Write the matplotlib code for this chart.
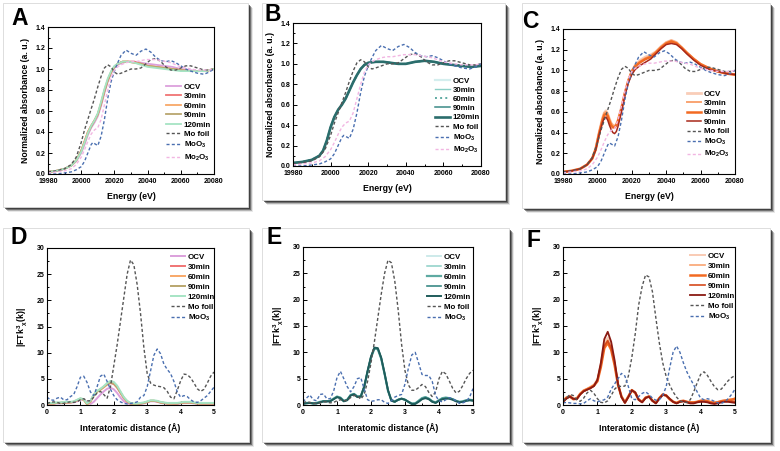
import matplotlib
matplotlib.use("Agg")
import matplotlib.pyplot as plt
from matplotlib.patches import Rectangle
from matplotlib.ticker import MultipleLocator

plt.rcParams['font.family'] = ['Liberation Sans', 'DejaVu Sans']
plt.rcParams['font.weight'] = 'bold'
plt.rcParams['mathtext.fontset'] = 'custom'
plt.rcParams['mathtext.rm'] = 'Liberation Sans:bold'
plt.rcParams['mathtext.it'] = 'Liberation Sans:bold'
plt.rcParams['mathtext.bf'] = 'Liberation Sans:bold'

# ---------------- XANES data ----------------
E_REF = [19980, 19985, 19990, 19994, 19997, 20000, 20002, 20004, 20006, 20007,
         20008, 20010, 20012, 20014, 20016, 20018, 20020, 20022, 20024, 20027,
         20030, 20033, 20036, 20039, 20042, 20045, 20048, 20051, 20054, 20057,
         20060, 20063, 20066, 20070, 20074, 20077, 20080]
mo_foil = [0.02, 0.03, 0.05, 0.09, 0.16, 0.30, 0.42, 0.52, 0.62, 0.67,
           0.72, 0.83, 0.93, 1.01, 1.04, 1.02, 0.97, 0.95, 0.96, 0.98,
           1.00, 1.00, 1.01, 1.05, 1.09, 1.10, 1.07, 1.02, 0.99, 0.99,
           1.01, 1.03, 1.03, 1.01, 0.99, 0.99, 1.00]
moo3 = [0.00, 0.00, 0.01, 0.02, 0.04, 0.07, 0.12, 0.20, 0.28, 0.30,
        0.29, 0.27, 0.36, 0.52, 0.72, 0.88, 0.98, 1.06, 1.13, 1.18,
        1.15, 1.13, 1.17, 1.19, 1.16, 1.11, 1.08, 1.07, 1.08, 1.06,
        1.03, 1.00, 0.98, 0.96, 0.95, 0.97, 1.00]
mo2o3 = [0.01, 0.02, 0.03, 0.05, 0.09, 0.16, 0.23, 0.31, 0.38, 0.40,
         0.42, 0.44, 0.52, 0.66, 0.80, 0.92, 0.99, 1.02, 1.04, 1.06,
         1.07, 1.07, 1.08, 1.09, 1.09, 1.09, 1.08, 1.07, 1.06, 1.04,
         1.02, 1.01, 1.00, 0.99, 0.99, 0.99, 1.00]

E_A = [19980, 19985, 19990, 19994, 19997, 20000, 20002, 20004, 20006, 20008,
       20010, 20012, 20014, 20016, 20018, 20020, 20022, 20025, 20028, 20032,
       20036, 20040, 20045, 20050, 20055, 20060, 20065, 20070, 20075, 20080]
a_ocv = [0.02, 0.03, 0.05, 0.08, 0.12, 0.20, 0.28, 0.37, 0.44, 0.49,
         0.55, 0.65, 0.77, 0.88, 0.96, 1.01, 1.04, 1.06, 1.07, 1.07,
         1.06, 1.05, 1.04, 1.03, 1.02, 1.00, 0.99, 0.98, 0.98, 1.00]
a_30 = [0.02, 0.03, 0.05, 0.08, 0.13, 0.22, 0.31, 0.40, 0.46, 0.51,
        0.57, 0.67, 0.79, 0.89, 0.97, 1.02, 1.05, 1.07, 1.07, 1.07,
        1.05, 1.03, 1.02, 1.01, 1.00, 0.99, 0.98, 0.98, 0.98, 1.00]
a_60 = [0.02, 0.03, 0.05, 0.08, 0.13, 0.22, 0.31, 0.40, 0.46, 0.51,
        0.57, 0.68, 0.80, 0.90, 0.97, 1.02, 1.05, 1.07, 1.07, 1.06,
        1.05, 1.03, 1.02, 1.01, 1.00, 0.99, 0.98, 0.98, 0.98, 1.00]
a_90 = [0.02, 0.03, 0.05, 0.08, 0.13, 0.22, 0.30, 0.39, 0.45, 0.51,
        0.57, 0.67, 0.79, 0.89, 0.97, 1.02, 1.05, 1.07, 1.07, 1.06,
        1.05, 1.03, 1.02, 1.01, 1.00, 0.99, 0.98, 0.98, 0.98, 1.00]
a_120 = [0.02, 0.03, 0.05, 0.08, 0.13, 0.21, 0.30, 0.39, 0.46, 0.51,
         0.58, 0.69, 0.81, 0.91, 0.98, 1.03, 1.05, 1.07, 1.07, 1.06,
         1.04, 1.02, 1.01, 1.00, 0.99, 0.98, 0.98, 0.98, 0.98, 1.00]

E_B = [19980, 19985, 19990, 19994, 19996, 19998, 20000, 20002, 20004, 20006,
       20008, 20010, 20012, 20014, 20016, 20018, 20020, 20024, 20028, 20032,
       20036, 20040, 20045, 20050, 20055, 20060, 20065, 20070, 20075, 20080]
b_ocv = [0.03, 0.04, 0.06, 0.10, 0.15, 0.25, 0.38, 0.48, 0.55, 0.60,
         0.66, 0.74, 0.82, 0.89, 0.95, 0.99, 1.01, 1.02, 1.02, 1.01,
         1.00, 1.00, 1.02, 1.03, 1.02, 1.00, 0.99, 0.98, 0.97, 0.98]
b_30 = [0.03, 0.04, 0.06, 0.10, 0.15, 0.25, 0.38, 0.48, 0.55, 0.60,
        0.66, 0.74, 0.82, 0.89, 0.95, 0.99, 1.01, 1.02, 1.02, 1.01,
        1.00, 1.00, 1.02, 1.03, 1.02, 1.00, 0.99, 0.98, 0.97, 0.98]
b_60 = [0.03, 0.04, 0.06, 0.10, 0.15, 0.25, 0.38, 0.48, 0.55, 0.60,
        0.66, 0.74, 0.82, 0.89, 0.95, 0.99, 1.01, 1.02, 1.02, 1.01,
        1.00, 1.00, 1.02, 1.03, 1.02, 1.00, 0.99, 0.98, 0.97, 0.98]
b_90 = [0.03, 0.04, 0.06, 0.10, 0.15, 0.25, 0.38, 0.48, 0.55, 0.60,
        0.66, 0.74, 0.82, 0.89, 0.95, 0.99, 1.01, 1.02, 1.02, 1.01,
        1.00, 1.00, 1.02, 1.03, 1.02, 1.00, 0.99, 0.98, 0.97, 0.98]
b_120 = [0.03, 0.04, 0.06, 0.10, 0.15, 0.25, 0.38, 0.48, 0.55, 0.60,
         0.66, 0.74, 0.82, 0.89, 0.95, 0.99, 1.01, 1.02, 1.02, 1.01,
         1.00, 1.00, 1.02, 1.03, 1.02, 1.00, 0.99, 0.98, 0.97, 0.98]

E_C = [19980, 19985, 19990, 19994, 19997, 19999, 20001, 20003, 20004, 20005,
       20006, 20007, 20008, 20009, 20010, 20011, 20012, 20014, 20016, 20018,
       20020, 20022, 20025, 20028, 20031, 20034, 20037, 20040, 20043, 20046,
       20049, 20052, 20056, 20060, 20065, 20070, 20075, 20080]
c_ocv = [0.02, 0.03, 0.05, 0.09, 0.15, 0.24, 0.40, 0.54, 0.59, 0.61,
         0.58, 0.53, 0.49, 0.47, 0.46, 0.48, 0.52, 0.64, 0.78, 0.90,
         0.99, 1.05, 1.10, 1.13, 1.15, 1.18, 1.23, 1.27, 1.29, 1.27,
         1.22, 1.17, 1.11, 1.06, 1.02, 0.99, 0.97, 0.96]
c_30 = [0.02, 0.03, 0.05, 0.09, 0.15, 0.24, 0.40, 0.54, 0.59, 0.60,
        0.58, 0.53, 0.49, 0.47, 0.46, 0.48, 0.52, 0.64, 0.78, 0.90,
        0.99, 1.05, 1.09, 1.12, 1.14, 1.18, 1.23, 1.27, 1.29, 1.27,
        1.22, 1.17, 1.11, 1.06, 1.02, 0.99, 0.97, 0.96]
c_60 = [0.02, 0.03, 0.05, 0.09, 0.15, 0.24, 0.39, 0.52, 0.57, 0.58,
        0.56, 0.51, 0.47, 0.45, 0.45, 0.47, 0.51, 0.63, 0.78, 0.90,
        0.99, 1.04, 1.08, 1.11, 1.13, 1.17, 1.22, 1.26, 1.28, 1.26,
        1.22, 1.17, 1.11, 1.06, 1.02, 0.99, 0.97, 0.96]
c_90 = [0.02, 0.03, 0.05, 0.09, 0.15, 0.23, 0.38, 0.50, 0.54, 0.55,
        0.52, 0.47, 0.43, 0.40, 0.39, 0.41, 0.46, 0.60, 0.76, 0.88,
        0.96, 1.01, 1.05, 1.08, 1.11, 1.16, 1.21, 1.25, 1.26, 1.25,
        1.21, 1.16, 1.10, 1.05, 1.01, 0.99, 0.97, 0.96]

# ---------------- EXAFS data ----------------
R = [round(0.1 * i, 1) for i in range(51)]

d_mo = [0.3, 0.5, 0.6, 0.5, 0.3, 0.3, 0.5, 0.6, 0.5, 0.6,
        1.0, 1.2, 0.8, 0.8, 1.5, 2.3, 2.6, 2.0, 1.3, 3.5,
        7.5, 11.5, 16.0, 20.5, 25.0, 27.7, 26.8, 23.0, 17.5, 11.0,
        6.0, 4.2, 3.8, 3.6, 3.5, 3.3, 2.6, 1.5, 1.2, 2.8,
        4.6, 5.9, 5.8, 5.2, 4.2, 3.1, 2.6, 3.0, 4.2, 5.5, 6.3]
d_moo3 = [1.5, 1.0, 0.9, 1.3, 1.5, 1.0, 1.0, 1.6, 2.0, 3.5,
          5.3, 5.5, 4.3, 2.5, 1.8, 3.5, 5.5, 5.9, 4.5, 3.0,
          1.8, 1.0, 0.6, 0.3, 0.2, 0.3, 0.4, 0.6, 1.5, 1.8,
          3.5, 6.5, 9.5, 10.7, 9.8, 7.8, 6.8, 6.0, 4.5, 2.5,
          1.5, 1.8, 1.6, 1.0, 0.6, 0.5, 0.8, 1.3, 1.8, 2.6, 3.4]
d_ocv = [0.2, 0.2, 0.3, 0.3, 0.3, 0.4, 0.4, 0.5, 0.5, 0.7,
         1.0, 1.1, 0.5, 0.2, 0.6, 1.3, 2.0, 2.6, 3.1, 3.3,
         3.0, 2.3, 1.4, 0.7, 0.3, 0.2, 0.2, 0.2, 0.2, 0.3,
         0.5, 0.7, 0.7, 0.6, 0.4, 0.3, 0.3, 0.3, 0.2, 0.2,
         0.3, 0.4, 0.4, 0.4, 0.3, 0.3, 0.2, 0.2, 0.2, 0.2, 0.2]
d_30 = [0.3, 0.3, 0.3, 0.4, 0.4, 0.5, 0.5, 0.5, 0.6, 0.9,
        1.2, 1.1, 0.2, 0.7, 1.9, 2.6, 3.0, 3.4, 3.9, 4.2,
        4.0, 3.3, 2.3, 1.3, 0.6, 0.3, 0.2, 0.2, 0.3, 0.4,
        0.6, 0.8, 0.8, 0.7, 0.5, 0.4, 0.3, 0.3, 0.3, 0.3,
        0.4, 0.5, 0.5, 0.5, 0.4, 0.3, 0.3, 0.3, 0.3, 0.3, 0.3]
d_60 = [0.3, 0.3, 0.3, 0.4, 0.4, 0.5, 0.5, 0.5, 0.6, 0.9,
        1.2, 1.0, 0.1, 0.6, 1.8, 2.5, 2.9, 3.4, 4.0, 4.4,
        4.2, 3.5, 2.4, 1.4, 0.7, 0.3, 0.2, 0.2, 0.3, 0.4,
        0.6, 0.8, 0.8, 0.7, 0.5, 0.4, 0.3, 0.3, 0.3, 0.3,
        0.4, 0.5, 0.5, 0.5, 0.4, 0.3, 0.3, 0.3, 0.3, 0.3, 0.3]
d_90 = [0.3, 0.3, 0.3, 0.4, 0.4, 0.5, 0.5, 0.5, 0.6, 0.9,
        1.2, 1.0, 0.2, 0.7, 1.9, 2.6, 3.0, 3.5, 4.0, 4.3,
        4.1, 3.4, 2.4, 1.4, 0.7, 0.3, 0.2, 0.2, 0.3, 0.4,
        0.6, 0.8, 0.8, 0.7, 0.5, 0.4, 0.3, 0.3, 0.3, 0.3,
        0.4, 0.5, 0.5, 0.5, 0.4, 0.3, 0.3, 0.3, 0.3, 0.3, 0.3]
d_120 = [0.4, 0.4, 0.4, 0.5, 0.5, 0.6, 0.6, 0.6, 0.7, 1.0,
         1.3, 1.1, 0.3, 0.8, 2.0, 2.7, 3.1, 3.6, 4.2, 4.6,
         4.4, 3.7, 2.6, 1.5, 0.8, 0.4, 0.3, 0.3, 0.4, 0.5,
         0.7, 0.9, 0.9, 0.8, 0.6, 0.5, 0.4, 0.4, 0.4, 0.4,
         0.5, 0.6, 0.6, 0.6, 0.5, 0.4, 0.4, 0.4, 0.4, 0.4, 0.4]

e_mo = [0.5, 0.6, 0.5, 0.3, 0.3, 0.4, 0.6, 0.6, 0.4, 0.5,
        0.8, 1.0, 0.8, 0.9, 1.4, 1.8, 1.7, 1.1, 2.0, 4.5,
        8.0, 12.0, 16.5, 21.0, 25.0, 27.5, 27.0, 23.5, 18.0, 11.5,
        6.5, 3.8, 2.8, 2.8, 3.3, 3.9, 3.5, 2.4, 1.6, 2.5,
        5.0, 6.4, 5.9, 4.6, 3.2, 2.3, 2.6, 3.7, 5.0, 6.0, 6.6]
e_moo3 = [0.6, 1.3, 1.9, 1.0, 0.8, 2.0, 2.1, 1.2, 1.2, 2.6,
          5.2, 6.4, 5.0, 3.5, 2.5, 3.5, 5.0, 5.2, 3.0, 1.0,
          0.7, 0.8, 1.0, 1.0, 0.5, 0.3, 0.8, 1.5, 1.8, 2.0,
          4.0, 7.0, 9.5, 10.0, 8.0, 5.8, 5.6, 5.6, 4.5, 1.8,
          0.8, 0.6, 1.0, 1.4, 1.2, 0.8, 0.3, 0.4, 0.7, 1.5, 3.1]
e_ocv = [0.3, 0.4, 0.4, 0.3, 0.4, 0.6, 0.7, 0.7, 0.8, 1.2,
         1.6, 1.4, 0.8, 1.0, 1.9, 2.1, 1.6, 1.7, 3.4, 6.3,
         9.0, 10.7, 10.6, 8.8, 5.9, 2.7, 0.9, 0.7, 1.0, 1.2,
         1.0, 0.6, 0.3, 0.3, 0.8, 1.3, 1.5, 1.2, 0.7, 0.5,
         0.9, 1.3, 1.4, 1.3, 1.1, 0.8, 0.6, 0.7, 0.9, 1.0, 0.9]
e_30 = [0.3, 0.4, 0.4, 0.3, 0.3, 0.5, 0.7, 0.7, 0.8, 1.2,
        1.6, 1.4, 0.7, 1.0, 1.9, 2.1, 1.6, 1.7, 3.5, 6.4,
        9.1, 10.8, 10.7, 8.9, 5.9, 2.8, 0.8, 0.6, 1.0, 1.2,
        1.0, 0.6, 0.2, 0.3, 0.7, 1.2, 1.5, 1.2, 0.7, 0.4,
        0.9, 1.3, 1.4, 1.3, 1.1, 0.8, 0.5, 0.6, 0.9, 1.0, 0.9]
e_60 = [0.3, 0.4, 0.4, 0.3, 0.4, 0.6, 0.7, 0.7, 0.8, 1.2,
        1.6, 1.4, 0.8, 1.0, 1.9, 2.1, 1.6, 1.7, 3.4, 6.3,
        9.0, 10.7, 10.6, 8.8, 5.9, 2.7, 0.9, 0.7, 1.0, 1.2,
        1.0, 0.6, 0.3, 0.3, 0.8, 1.3, 1.5, 1.2, 0.7, 0.5,
        0.9, 1.3, 1.4, 1.3, 1.1, 0.8, 0.6, 0.7, 0.9, 1.0, 0.9]
e_90 = [0.3, 0.4, 0.4, 0.3, 0.3, 0.5, 0.7, 0.7, 0.7, 1.1,
        1.5, 1.3, 0.7, 1.0, 1.8, 2.1, 1.6, 1.6, 3.4, 6.4,
        9.1, 10.8, 10.7, 8.9, 5.9, 2.8, 0.8, 0.6, 1.0, 1.2,
        1.0, 0.6, 0.2, 0.3, 0.7, 1.2, 1.4, 1.2, 0.7, 0.4,
        0.8, 1.2, 1.3, 1.3, 1.1, 0.8, 0.6, 0.6, 0.8, 0.9, 0.9]
e_120 = [0.2, 0.3, 0.4, 0.3, 0.3, 0.5, 0.7, 0.7, 0.7, 1.1,
         1.5, 1.3, 0.7, 0.9, 1.8, 2.0, 1.5, 1.6, 3.5, 6.5,
         9.2, 10.9, 10.8, 9.0, 6.0, 2.8, 0.8, 0.6, 1.0, 1.2,
         1.0, 0.6, 0.2, 0.2, 0.6, 1.1, 1.3, 1.1, 0.6, 0.4,
         0.8, 1.1, 1.2, 1.2, 1.0, 0.7, 0.5, 0.6, 0.8, 0.9, 0.8]

f_mo = [0.8, 1.3, 2.0, 1.8, 1.0, 0.7, 1.3, 2.3, 2.8, 2.2,
        1.2, 0.5, 0.4, 0.8, 1.8, 3.0, 3.6, 3.5, 3.6, 5.5,
        9.0, 13.5, 19.0, 22.5, 24.7, 24.3, 21.5, 16.5, 11.8, 8.0,
        5.4, 3.8, 2.5, 1.5, 0.8, 0.5, 0.5, 1.0, 2.5, 4.2,
        5.8, 6.3, 5.6, 4.5, 3.5, 2.9, 3.0, 3.8, 4.6, 5.2, 5.6]
f_moo3 = [0.4, 0.5, 0.4, 0.3, 0.3, 0.2, 0.3, 0.8, 1.2, 0.8,
          0.6, 0.8, 1.0, 1.5, 3.0, 4.0, 5.0, 6.0, 5.5, 3.5,
          1.2, 1.0, 1.6, 2.2, 2.5, 2.0, 1.3, 0.9, 1.0, 1.8,
          3.5, 7.0, 10.0, 11.2, 10.0, 8.0, 6.3, 5.0, 3.8, 2.5,
          1.3, 1.0, 1.2, 1.0, 0.7, 0.4, 0.3, 0.6, 1.2, 2.0, 3.0]
f_ocv = [0.8, 1.4, 1.8, 1.3, 1.3, 2.2, 2.8, 3.1, 3.5, 3.9,
         4.9, 7.9, 11.9, 12.8, 11.4, 8.1, 4.0, 1.7, 0.6, 1.7,
         2.9, 2.4, 1.1, 0.6, 1.4, 1.6, 0.9, 0.4, 1.3, 2.0,
         1.8, 1.2, 0.7, 0.4, 0.7, 0.8, 0.6, 0.5, 0.5, 0.6,
         0.8, 0.9, 0.8, 0.6, 0.5, 0.6, 0.8, 0.9, 1.0, 1.1, 1.2]
f_30 = [0.7, 1.3, 1.7, 1.2, 1.2, 2.1, 2.7, 3.0, 3.4, 3.8,
        4.7, 7.6, 11.5, 12.3, 11.0, 7.9, 3.9, 1.6, 0.5, 1.6,
        2.9, 2.4, 1.1, 0.6, 1.4, 1.7, 0.9, 0.4, 1.3, 2.0,
        1.9, 1.2, 0.7, 0.4, 0.7, 0.8, 0.6, 0.5, 0.5, 0.6,
        0.8, 0.9, 0.8, 0.6, 0.5, 0.6, 0.8, 0.9, 1.0, 1.1, 1.2]
f_60 = [0.7, 1.4, 1.6, 1.1, 1.2, 2.1, 2.7, 3.0, 3.3, 3.7,
        4.5, 7.2, 10.8, 11.8, 10.5, 7.6, 3.8, 1.6, 0.5, 1.6,
        2.8, 2.3, 1.0, 0.6, 1.4, 1.6, 0.8, 0.4, 1.3, 2.0,
        1.8, 1.1, 0.6, 0.4, 0.7, 0.8, 0.6, 0.5, 0.5, 0.6,
        0.8, 0.8, 0.7, 0.5, 0.4, 0.5, 0.7, 0.8, 0.9, 1.0, 1.2]
f_90 = [0.6, 1.3, 1.6, 1.1, 1.1, 2.0, 2.6, 2.9, 3.2, 3.6,
        4.6, 7.4, 11.2, 12.2, 10.8, 7.8, 3.8, 1.5, 0.4, 1.6,
        2.8, 2.3, 1.0, 0.5, 1.4, 1.6, 0.8, 0.3, 1.3, 2.0,
        1.8, 1.1, 0.6, 0.3, 0.6, 0.8, 0.6, 0.4, 0.4, 0.6,
        0.7, 0.7, 0.6, 0.4, 0.3, 0.4, 0.6, 0.7, 0.7, 0.7, 0.7]
f_120 = [0.6, 1.2, 1.6, 1.2, 1.1, 2.0, 2.6, 2.9, 3.2, 3.6,
         4.8, 8.0, 12.5, 13.9, 12.0, 8.5, 4.0, 1.5, 0.4, 1.5,
         2.8, 2.4, 1.0, 0.5, 1.3, 1.6, 0.8, 0.3, 1.2, 1.9,
         1.8, 1.2, 0.6, 0.3, 0.6, 0.7, 0.5, 0.3, 0.3, 0.5,
         0.6, 0.6, 0.5, 0.3, 0.2, 0.3, 0.5, 0.6, 0.6, 0.5, 0.4]

LABELS5 = ['OCV', '30min', '60min', '90min', '120min']
LABELS4 = ['OCV', '30min', '60min', '90min']

# ---------------- figure ----------------
W, H = 780, 451
fig = plt.figure(figsize=(W / 100, H / 100), dpi=100)
fig.patch.set_facecolor('white')


def fx(px):
    return px / W


def fy(py):
    return 1 - py / H


def card(x0, y0, x1, y1):
    for off, a in [(5, 0.10), (4, 0.25), (3, 0.45), (2, 0.6)]:
        fig.patches.append(Rectangle((fx(x0 + off), fy(y1 + off)), fx(x1 - x0), (y1 - y0) / H,
                                     transform=fig.transFigure, facecolor='#202020', edgecolor='none',
                                     alpha=a, zorder=-10))
    fig.patches.append(Rectangle((fx(x0), fy(y1)), fx(x1 - x0), (y1 - y0) / H,
                                 transform=fig.transFigure, facecolor='white', edgecolor='#d8d8d8',
                                 linewidth=0.6, zorder=-5))


TICK_FS = 5.0
LAB_FS = 6.3


def make_ax(l, r, t, b):
    ax = fig.add_axes([fx(l), fy(b), fx(r - l), (b - t) / H])
    for s in ax.spines.values():
        s.set_linewidth(0.8)
    ax.tick_params(which='both', direction='in', labelsize=TICK_FS, width=0.7)
    ax.tick_params(axis='x', pad=3.2)
    ax.tick_params(axis='y', pad=2)
    ax.tick_params(which='major', length=2.6)
    ax.tick_params(which='minor', length=1.4)
    return ax


cards = [(3, 3, 248, 207), (262, 3, 505, 200), (522, 3, 770, 208),
         (3, 228, 249, 442), (262, 228, 509, 442), (522, 228, 770, 442)]
for c in cards:
    card(*c)

letters = [('A', 11, 25), ('B', 265, 21), ('C', 522, 28), ('D', 11, 244), ('E', 267, 244), ('F', 527, 247)]
for L, x, y in letters:
    fig.text(fx(x), fy(y), L, fontsize=16.5, fontweight='bold', ha='left', va='baseline',
             family='Liberation Sans')

REF_MO = dict(color='#555555', ls=(0, (2.2, 1.6)), lw=1.0)
REF_MOO3 = dict(color='#4a6fb0', ls=(0, (2.2, 1.6)), lw=1.0)
REF_MO2O3 = dict(color='#f2b6e2', ls=(0, (2.2, 1.6)), lw=1.0)

LEG_FS = 5.7


def add_legend(ax, handles, labels, x, ytop, hl_px, pitch):
    fs_px = LEG_FS * 100 / 72
    ax.legend(handles, labels, loc='upper left', bbox_to_anchor=(fx(x), fy(ytop)),
              bbox_transform=fig.transFigure, frameon=False,
              prop=dict(family='Liberation Sans', weight='bold', size=LEG_FS),
              handlelength=hl_px / fs_px, handletextpad=0.35,
              labelspacing=(pitch - 1.15 * fs_px) / fs_px, borderpad=0, borderaxespad=0)


def xanes_axes(ax):
    ax.set_xlim(19980, 20080)
    ax.set_ylim(0, 1.4)
    ax.xaxis.set_minor_locator(MultipleLocator(10))
    ax.yaxis.set_minor_locator(MultipleLocator(0.1))
    ax.set_xticks([19980, 20000, 20020, 20040, 20060, 20080])
    ax.set_xticklabels(['19980', '20000', '20020', '20040', '20060', '20080'])
    ax.set_yticks([0, 0.2, 0.4, 0.6, 0.8, 1.0, 1.2, 1.4])
    ax.set_yticklabels(['0.0', '0.2', '0.4', '0.6', '0.8', '1.0', '1.2', '1.4'])
    ax.set_xlabel('Energy (eV)', fontsize=LAB_FS, fontweight='bold', labelpad=5)
    ax.set_ylabel('Normalized absorbance (a. u.)', fontsize=LAB_FS, fontweight='bold', labelpad=4)


def exafs_axes(ax):
    ax.set_xlim(0, 5)
    ax.set_ylim(0, 30)
    ax.xaxis.set_major_locator(MultipleLocator(1))
    ax.xaxis.set_minor_locator(MultipleLocator(0.5))
    ax.yaxis.set_major_locator(MultipleLocator(5))
    ax.yaxis.set_minor_locator(MultipleLocator(2.5))
    ax.set_xlabel('Interatomic distance (Å)', fontsize=LAB_FS, fontweight='bold', labelpad=5)
    ax.set_ylabel(r'|FTk$^{3}$$_{\chi}$(k)|', fontsize=LAB_FS, fontweight='bold', labelpad=5)


# ---- A ----
axA = make_ax(48, 214, 27, 174)
colsA = ['#dca0dc', '#f07474', '#f8a868', '#b9a66e', '#a6e4c4']
seriesA = [a_ocv, a_30, a_60, a_90, a_120]
hA = []
for y, c in zip(seriesA, colsA):
    hA.append(axA.plot(E_A, y, color=c, lw=1.3)[0])
hA.append(axA.plot(E_REF, mo_foil, **REF_MO)[0])
hA.append(axA.plot(E_REF, moo3, **REF_MOO3)[0])
hA.append(axA.plot(E_REF, mo2o3, **REF_MO2O3)[0])
xanes_axes(axA)
add_legend(axA, hA, LABELS5 + ['Mo foil', 'MoO$_3$', 'Mo$_2$O$_3$'], 166, 83, 15, 11.1)

# ---- B ----
axB = make_ax(293, 481, 23, 166)
colsB = ['#d4eeee', '#8ccfc6', '#5eaaa2', '#3b8a86', '#2b6d6c']
lwB = [1.6, 1.0, 1.4, 1.1, 1.9]
lsB = ['-', '-', ':', '-', '-']
seriesB = [b_ocv, b_30, b_60, b_90, b_120]
hB = []
for y, c, lw, ls in zip(seriesB, colsB, lwB, lsB):
    hB.append(axB.plot(E_B, y, color=c, lw=lw, ls=ls)[0])
hB.append(axB.plot(E_REF, mo_foil, **REF_MO)[0])
hB.append(axB.plot(E_REF, moo3, **REF_MOO3)[0])
hB.append(axB.plot(E_REF, mo2o3, **REF_MO2O3)[0])
xanes_axes(axB)
add_legend(axB, hB, LABELS5 + ['Mo foil', 'MoO$_3$', 'Mo$_2$O$_3$'], 435, 77, 15, 10.8)

# ---- C ----
axC = make_ax(563, 735, 29, 174)
colsC = ['#f9cdb8', '#f9a472', '#f26a22', '#a8281a']
lwC = [2.0, 1.4, 1.8, 1.1]
seriesC = [c_ocv, c_30, c_60, c_90]
hC = []
for y, c, lw in zip(seriesC, colsC, lwC):
    hC.append(axC.plot(E_C, y, color=c, lw=lw)[0])
hC.append(axC.plot(E_REF, mo_foil, **REF_MO)[0])
hC.append(axC.plot(E_REF, moo3, **REF_MOO3)[0])
hC.append(axC.plot(E_REF, mo2o3, **REF_MO2O3)[0])
xanes_axes(axC)
add_legend(axC, hC, LABELS4 + ['Mo foil', 'MoO$_3$', 'Mo$_2$O$_3$'], 687, 90, 14, 11.0)

# ---- D ----
axD = make_ax(47, 214, 248, 405)
seriesD = [d_ocv, d_30, d_60, d_90, d_120]
hD = []
for y, c in zip(seriesD, colsA):
    hD.append(axD.plot(R, y, color=c, lw=1.4)[0])
hD.append(axD.plot(R, d_mo, **REF_MO)[0])
hD.append(axD.plot(R, d_moo3, **REF_MOO3)[0])
exafs_axes(axD)
add_legend(axD, hD, LABELS5 + ['Mo foil', 'MoO$_3$'], 171, 253, 14, 11.6)

# ---- E ----
axE = make_ax(303, 473, 247, 405)
colsE = ['#c9e8e8', '#8ccfc6', '#5eaaa2', '#3b8a86', '#1f5c5b']
lwE = [1.3, 1.1, 1.6, 1.2, 1.4]
seriesE = [e_ocv, e_30, e_60, e_90, e_120]
hE = []
for y, c, lw in zip(seriesE, colsE, lwE):
    hE.append(axE.plot(R, y, color=c, lw=lw)[0])
hE.append(axE.plot(R, e_mo, **REF_MO)[0])
hE.append(axE.plot(R, e_moo3, **REF_MOO3)[0])
exafs_axes(axE)
add_legend(axE, hE, LABELS5 + ['Mo foil', 'MoO$_3$'], 427, 253, 14, 11.6)

# ---- F ----
axF = make_ax(563, 735, 247, 405)
colsF = ['#f9cbb4', '#f9a472', '#f26a22', '#d54a1c', '#8a1a12']
lwF = [1.4, 1.2, 1.8, 1.2, 1.3]
seriesF = [f_ocv, f_30, f_60, f_90, f_120]
hF = []
for y, c, lw in zip(seriesF, colsF, lwF):
    hF.append(axF.plot(R, y, color=c, lw=lw)[0])
hF.append(axF.plot(R, f_mo, **REF_MO)[0])
hF.append(axF.plot(R, f_moo3, **REF_MOO3)[0])
exafs_axes(axF)
add_legend(axF, hF, LABELS5 + ['Mo foil', 'MoO$_3$'], 690, 252, 15, 11.6)

fig.savefig('out.png', dpi=100, facecolor='white')
